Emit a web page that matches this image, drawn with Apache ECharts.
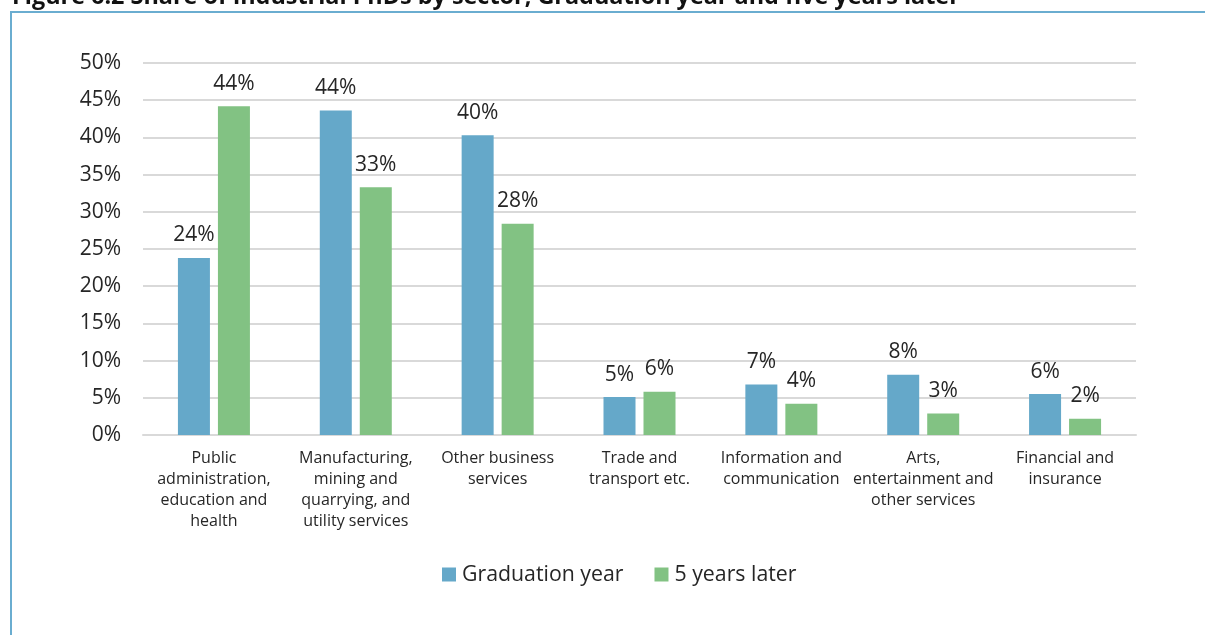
<!DOCTYPE html>
<html>
<head>
<meta charset="utf-8">
<script src="https://cdn.jsdelivr.net/npm/echarts@6/dist/echarts.min.js"></script>
<style>
  html, body { margin: 0; padding: 0; background: #ffffff; }
  #chart { width: 1205px; height: 635px; }
</style>
</head>
<body>
<div id="chart"></div>
<script>
// Sectors (x-axis categories), wrapped as they appear under the axis
const sectors = [
  'Public\nadministration,\neducation and\nhealth',
  'Manufacturing,\nmining and\nquarrying, and\nutility services',
  'Other business\nservices',
  'Trade and\ntransport etc.',
  'Information and\ncommunication',
  'Arts,\nentertainment and\nother services',
  'Financial and\ninsurance'
];

// Share of industrial PhDs (%) per sector
const graduationYear = [23.8, 43.6, 40.3, 5.1, 6.8, 8.1, 5.5];
const fiveYearsLater = [44.2, 33.3, 28.4, 5.8, 4.2, 2.9, 2.2];

const seriesNames = ['Graduation year', '5 years later'];
const yTicks = { min: 0, max: 50, step: 5 };

const titleText = 'Figure 6.2 Share of industrial PhDs by sector, Graduation year and five years later';

const FONT = '"Open Sans", sans-serif';
const TEXT = '#262626';
const BLUE = '#65a8c9';
const GREEN = '#82c283';

const chart = echarts.init(document.getElementById('chart'), null, { renderer: 'canvas' });

const labelCfg = {
  show: true,
  position: 'top',
  distance: 12,
  fontFamily: FONT,
  fontSize: 21,
  color: TEXT,
  formatter: p => Math.round(p.value) + '%'
};

chart.setOption({
  animation: false,
  backgroundColor: '#ffffff',
  graphic: [
    {
      type: 'text',
      x: 12,
      y: 9,
      style: {
        text: titleText,
        font: 'bold 23.4px "Open Sans", sans-serif',
        fill: '#111111',
        verticalAlign: 'bottom'
      }
    },
    {
      type: 'rect',
      shape: { x: 11, y: 12, width: 1300, height: 800 },
      style: { fill: 'none', stroke: '#6aadd0', lineWidth: 2 }
    }
  ],
  grid: { left: 143, right: 69, top: 63, bottom: 200, containLabel: false },
  legend: {
    data: seriesNames,
    top: 559,
    left: 437,
    itemWidth: 14,
    itemHeight: 14,
    itemGap: 31,
    icon: 'rect',
    textStyle: { fontFamily: FONT, fontSize: 21.3, color: TEXT, padding: [0, 0, 0, 1] }
  },
  xAxis: {
    type: 'category',
    data: sectors,
    axisLine: { show: true, lineStyle: { color: '#d9d9d9', width: 2 } },
    axisTick: { show: false },
    axisLabel: {
      interval: 0,
      margin: 13,
      fontFamily: FONT,
      fontSize: 16,
      lineHeight: 21,
      color: TEXT,
      align: 'center'
    }
  },
  yAxis: {
    type: 'value',
    min: yTicks.min,
    max: yTicks.max,
    interval: yTicks.step,
    axisLine: { show: false },
    axisTick: { show: false },
    splitLine: { lineStyle: { color: '#d9d9d9', width: 2 } },
    axisLabel: {
      margin: 22,
      fontFamily: FONT,
      fontSize: 21,
      color: TEXT,
      formatter: v => v + '%'
    }
  },
  series: [
    {
      name: seriesNames[0],
      type: 'bar',
      data: graduationYear,
      barWidth: 32,
      barGap: '25%',
      itemStyle: { color: BLUE },
      label: labelCfg
    },
    {
      name: seriesNames[1],
      type: 'bar',
      data: fiveYearsLater,
      barWidth: 32,
      barGap: '25%',
      itemStyle: { color: GREEN },
      label: labelCfg
    }
  ]
});
</script>
</body>
</html>
